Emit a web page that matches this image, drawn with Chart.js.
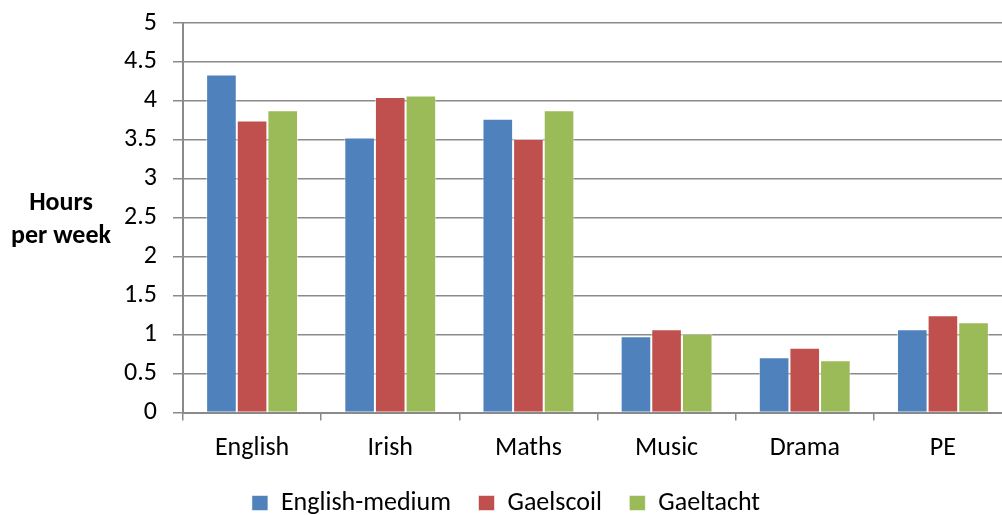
<!DOCTYPE html>
<html>
<head>
<meta charset="utf-8">
<script src="https://cdn.jsdelivr.net/npm/chart.js@4/dist/chart.umd.min.js"></script>
<style>
  html, body { margin: 0; padding: 0; background: #fff; overflow: hidden; }
  .wrap { width: 1012px; height: 515px; position: relative; }
</style>
</head>
<body>
<div class="wrap"><canvas id="chart"></canvas></div>
<script>
const subjects = ['English', 'Irish', 'Maths', 'Music', 'Drama', 'PE'];
const englishMedium = [4.34, 3.53, 3.77, 0.98, 0.71, 1.07];
const gaelscoil = [3.75, 4.05, 3.51, 1.07, 0.83, 1.25];
const gaeltacht = [3.88, 4.07, 3.88, 1.01, 0.67, 1.16];
const yTitle = ['Hours', 'per week'];

const font = "Calibri, Carlito, Lato, 'Open Sans', sans-serif";
const gridColor = '#8a8a8a';

// horizontal y axis title, like the original
const yTitlePlugin = {
  id: 'yTitle',
  afterDraw(chart) {
    const c = chart.ctx;
    c.save();
    c.font = 'bold 26px ' + font;
    c.fillStyle = '#000';
    c.textAlign = 'center';
    c.textBaseline = 'middle';
    c.fillText(yTitle[0], 61, 203);
    c.fillText(yTitle[1], 61, 236);
    c.restore();
  }
};

const ctx = document.getElementById('chart').getContext('2d');
let myChart = new Chart(ctx, {
  type: 'bar',
  data: {
    labels: subjects,
    datasets: [
      { label: 'English-medium', data: englishMedium, backgroundColor: '#4F81BD' },
      { label: 'Gaelscoil', data: gaelscoil, backgroundColor: '#C0504D' },
      { label: 'Gaeltacht', data: gaeltacht, backgroundColor: '#9BBB59' }
    ]
  },
  options: {
    responsive: true,
    maintainAspectRatio: false,
    animation: false,
    datasets: {
      bar: {
        categoryPercentage: 0.665,
        barPercentage: 1.0,
        borderWidth: 1,
        borderColor: 'rgba(255,255,255,0.55)'
      }
    },
    layout: { padding: { top: 0, left: 0, right: 0, bottom: -11 } },
    plugins: {
      tooltip: { enabled: false },
      legend: {
        position: 'bottom',
        labels: {
          font: { family: font, size: 26 },
          color: '#000',
          boxWidth: 16,
          boxHeight: 15,
          padding: 27.5
        }
      }
    },
    scales: {
      x: {
        grid: {
          drawOnChartArea: false,
          drawTicks: true,
          tickLength: 8,
          color: gridColor,
          lineWidth: 1.5
        },
        border: { color: gridColor, width: 2 },
        ticks: { font: { family: font, size: 26 }, color: '#000', padding: 12 },
        afterFit(scale) { scale.height = 50; }
      },
      y: {
        min: 0,
        max: 5,
        ticks: {
          stepSize: 0.5,
          font: { family: font, size: 26 },
          color: '#000',
          padding: 16,
          callback: (v) => String(v)
        },
        grid: { color: gridColor, lineWidth: 1.5, tickLength: 10 },
        border: { color: gridColor, width: 2 },
        afterFit(scale) {
          scale.width = 183;
          scale.paddingTop = 23;
          scale.paddingBottom = 0;
        }
      }
    }
  },
  plugins: [yTitlePlugin]
});
</script>
</body>
</html>
